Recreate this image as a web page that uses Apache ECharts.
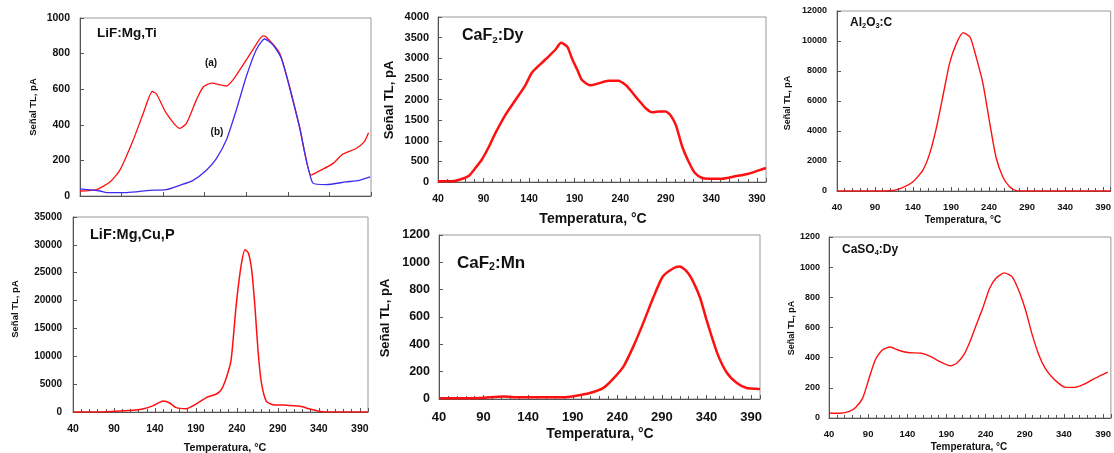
<!DOCTYPE html>
<html><head><meta charset="utf-8">
<script src="https://cdn.jsdelivr.net/npm/echarts@6/dist/echarts.min.js"></script>
<style>html,body{margin:0;padding:0;background:#fff}#c{width:1114px;height:453px}</style>
</head><body><div id="c"></div>
<script>
// ---------- DATA ----------
// Panel 1: LiF:Mg,Ti  (a) red, (b) blue
const lifTiTempA   = [40,60,76,88,104,116,127,132,144,160,168,180,188,198,216,224,240,248,260,264,280,292,304,318,328,344,356,372,382,387];
const lifTiSignalA = [28,36,79,145,314,464,587,573,464,380,408,540,611,634,618,652,765,822,900,893,803,615,389,117,141,182,235,267,305,355];
const lifTiTempB   = [40,64,72,96,124,144,160,176,192,204,216,228,240,252,262,272,282,292,304,320,336,360,376,389];
const lifTiSignalB = [40,28,19,19,32,36,60,88,145,210,314,483,671,822,882,850,775,611,389,73,64,79,88,107];
// Panel 2: CaF2:Dy
const cafDyTemp   = [40,55,66,74,81,88,96,103,114,125,136,143,154,161,169,175,182,187,193,198,207,216,227,238,246,251,260,268,275,282,290,295,301,308,315,322,330,337,352,366,381,392,400];
const cafDySignal = [16,16,72,153,338,539,861,1183,1626,1988,2351,2648,2890,3035,3212,3373,3276,2995,2713,2471,2343,2391,2455,2455,2351,2230,1988,1787,1690,1707,1707,1626,1385,861,499,217,97,80,80,137,201,282,338];
// Panel 3: Al2O3:C
const alTemp   = [40,110,127,140,153,162,171,180,188,197,206,215,223,232,241,249,258,267,276,284,400];
const alSignal = [0,20,244,621,1397,2506,4281,6499,8495,9826,10558,10269,8939,7164,4503,2285,954,288,22,0,0];
// Panel 4: LiF:Mg,Cu,P
const lifCuTemp   = [40,81,113,125,138,150,158,166,178,191,203,215,221,227,233,239,245,250,254,258,262,266,270,276,284,297,317,329,339,349,400];
const lifCuSignal = [0,60,300,540,1137,1974,1615,778,598,1496,2632,3231,4009,6103,9393,18966,26146,29137,28539,25547,18966,10590,5205,1915,1316,1256,1017,538,180,0,0];
// Panel 5: CaF2:Mn
const cafMnTemp   = [40,86,112,131,179,194,209,224,235,247,258,269,280,291,303,310,318,325,333,340,352,363,374,385,396,400];
const cafMnSignal = [5,7,19,12,12,24,44,80,146,239,385,555,737,896,957,969,932,859,737,579,336,190,117,80,75,73];
// Panel 6: CaSO4:Dy
const casTemp   = [40,53,66,74,83,91,99,108,118,128,141,158,170,183,195,203,212,220,228,237,245,253,264,274,283,291,299,308,316,324,333,341,353,366,378,387,396];
const casSignal = [33,31,44,70,132,260,385,451,471,451,434,429,407,370,346,363,418,506,617,738,859,925,962,936,837,716,561,418,330,275,231,205,203,225,260,282,304];

// Axis ticks
const tempTicks = {min: 40, max: 400, interval: 50};
const yTicks = [
  {max: 1000, interval: 200},
  {max: 4000, interval: 500},
  {max: 12000, interval: 2000},
  {max: 35000, interval: 5000},
  {max: 1200, interval: 200},
  {max: 1200, interval: 200}
];
const yTitle = 'Señal TL, pA';
const xTitle = 'Temperatura, °C';

// ---------- LAYOUT ----------
const FONT = '"Liberation Sans", Arial, Helvetica, sans-serif';
const grids = [
  {left: 80,  top: 18,  width: 291, height: 178},
  {left: 438, top: 17,  width: 328, height: 165},
  {left: 837, top: 11,  width: 275, height: 180},
  {left: 73,  top: 217, width: 295, height: 195},
  {left: 439, top: 235, width: 321, height: 164},
  {left: 829, top: 237, width: 288, height: 181}
];
const yLabelFont = [10.5, 11, 9, 10, 12.5, 9];
const yLabelMargin = [10, 9, 10, 11, 9, 9];
const xLabelFont = [10, 10.5, 9.5, 10.5, 13, 9.5];
const xLabelMargin = [10, 12, 11, 12, 12, 11];
const lineW = [1.3, 2.5, 1.4, 1.5, 2.5, 1.4];
const RED = '#ff1010', BLUE = '#3d2cf2';

const pairs = (xs, ys) => xs.map((x, i) => [x, ys[i]]);
const plain = v => String(v);

const xAxes = grids.map((g, i) => ({
  type: 'value', gridIndex: i,
  min: tempTicks.min, max: i === 0 ? 390 : tempTicks.max, interval: tempTicks.interval,
  axisLine: {show: true, onZero: false, lineStyle: {color: '#555', width: 1}},
  axisTick: {show: true, inside: true, length: 4, lineStyle: {color: '#555'}},
  minorTick: {show: i !== 0, splitNumber: 5, length: 3, lineStyle: {color: '#555'}},
  splitLine: {show: false},
  axisLabel: {show: i !== 0, showMaxLabel: false, formatter: plain, fontFamily: FONT, fontWeight: 'bold',
    fontSize: xLabelFont[i], color: '#111', margin: xLabelMargin[i]}
}));
const yAxes = grids.map((g, i) => ({
  type: 'value', gridIndex: i, min: 0, max: yTicks[i].max, interval: yTicks[i].interval,
  axisLine: {show: true, lineStyle: {color: '#555', width: 1}},
  axisTick: {show: true, inside: true, length: 4, lineStyle: {color: '#555'}},
  splitLine: {show: false},
  axisLabel: {formatter: plain, fontFamily: FONT, fontWeight: 'bold', fontSize: yLabelFont[i], color: '#111', margin: yLabelMargin[i]}
}));

const mk = (name, idx, xs, ys, color) => ({
  name, type: 'line', xAxisIndex: idx, yAxisIndex: idx,
  data: pairs(xs, ys), showSymbol: false, smooth: 0.2,
  lineStyle: {color, width: lineW[idx]}, itemStyle: {color}, z: 3, silent: true
});

const series = [
  mk('LiF:Mg,Ti (a)', 0, lifTiTempA, lifTiSignalA, RED),
  mk('LiF:Mg,Ti (b)', 0, lifTiTempB, lifTiSignalB, BLUE),
  mk('CaF2:Dy', 1, cafDyTemp, cafDySignal, RED),
  mk('Al2O3:C', 2, alTemp, alSignal, RED),
  mk('LiF:Mg,Cu,P', 3, lifCuTemp, lifCuSignal, RED),
  mk('CaF2:Mn', 4, cafMnTemp, cafMnSignal, RED),
  mk('CaSO4:Dy', 5, casTemp, casSignal, RED)
];

// Titles inside panels (rich text for subscripts)
const panelTitles = [
  {x: 97,  y: 33,  size: 13.5, text: '{n|LiF:Mg,Ti}'},
  {x: 462, y: 36,  size: 16,   text: '{n|CaF}{s|2}{n|:Dy}'},
  {x: 850, y: 23,  size: 12,   text: '{n|Al}{s|2}{n|O}{s|3}{n|:C}'},
  {x: 90,  y: 235, size: 14.5, text: '{n|LiF:Mg,Cu,P}'},
  {x: 457, y: 263, size: 17,   text: '{n|CaF}{s|2}{n|:Mn}'},
  {x: 842, y: 250, size: 12,   text: '{n|CaSO}{s|4}{n|:Dy}'}
];
const yTitles = [
  {x: 33, y: 107, size: 9.5},
  {x: 389, y: 100, size: 13},
  {x: 788, y: 103, size: 9},
  {x: 15, y: 309, size: 9.5},
  {x: 385, y: 318, size: 13},
  {x: 792, y: 328, size: 9}
];
const xTitles = [
  {x: 593, y: 219, size: 14},
  {x: 963, y: 220, size: 10},
  {x: 225, y: 448, size: 10.8},
  {x: 600, y: 434, size: 14},
  {x: 969, y: 447, size: 10}
];
const notes = [
  {x: 211, y: 63, text: '(a)'},
  {x: 217, y: 132, text: '(b)'}
];

const graphic = [];
panelTitles.forEach(t => graphic.push({
  type: 'text', x: t.x, y: t.y, z: 10,
  style: {text: t.text, align: 'left', verticalAlign: 'middle',
    rich: {
      n: {fontFamily: FONT, fontWeight: 'bold', fontSize: t.size, fill: '#111'},
      s: {fontFamily: FONT, fontWeight: 'bold', fontSize: t.size * 0.62, fill: '#111', verticalAlign: 'bottom', padding: [t.size * 0.5, 0, 0, 0]}
    }}
}));
yTitles.forEach(t => graphic.push({
  type: 'text', x: t.x, y: t.y, rotation: Math.PI / 2, z: 10,
  style: {text: yTitle, align: 'center', verticalAlign: 'middle', fontFamily: FONT, fontWeight: 'bold', fontSize: t.size, fill: '#111'}
}));
xTitles.forEach(t => graphic.push({
  type: 'text', x: t.x, y: t.y, z: 10,
  style: {text: xTitle, align: 'center', verticalAlign: 'middle', fontFamily: FONT, fontWeight: 'bold', fontSize: t.size, fill: '#111'}
}));
notes.forEach(t => graphic.push({
  type: 'text', x: t.x, y: t.y, z: 10,
  style: {text: t.text, align: 'center', verticalAlign: 'middle', fontFamily: FONT, fontWeight: 'bold', fontSize: 10, fill: '#111'}
}));

const chart = echarts.init(document.getElementById('c'), null, {renderer: 'canvas'});
chart.setOption({
  animation: false,
  backgroundColor: '#fff',
  grid: grids.map(g => Object.assign({show: true, borderColor: '#999', borderWidth: 1, backgroundColor: 'transparent', containLabel: false}, g)),
  xAxis: xAxes,
  yAxis: yAxes,
  series,
  graphic
});
</script></body></html>
